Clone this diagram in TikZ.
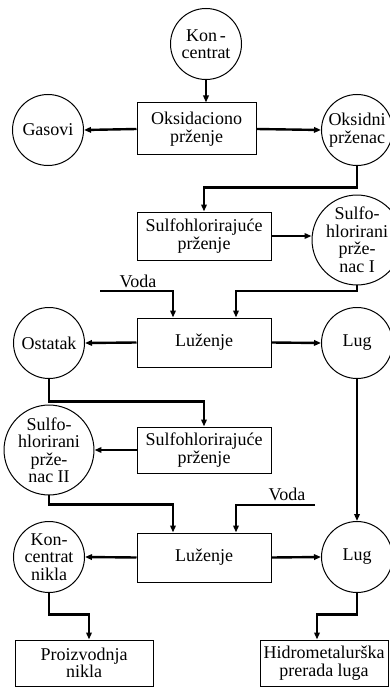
\documentclass[tikz,border=0pt]{standalone}
\usepackage{fontspec}
\setmainfont{Liberation Serif}
\usetikzlibrary{arrows.meta,calc}
\begin{document}
\begin{tikzpicture}[x=1pt,y=-1pt,
  every node/.style={font=\fontsize{18}{17.5}\selectfont, align=center, inner sep=0pt},
  stage/.style={draw, line width=1pt, minimum width=134pt, minimum height=48pt},
  prod/.style={draw, circle, line width=1pt, minimum size=71pt},
  flow/.style={line width=2.4pt, -{Triangle[length=7pt,width=5.5pt]}},
  feed/.style={line width=2.4pt}]
\useasboundingbox (0,0) rectangle (389,687);
\fill[white] (0,0) rectangle (389,687);

% process stages (boxes) and products (circles)
\node[prod] (kon) at (206,44) {Kon\,-\\centrat};
\node[stage, minimum width=119pt, minimum height=52pt] (ox) at (196.5,129) {Oksidaciono\\prženje};
\node[prod] (gas) at (48,130) {Gasovi};
\node[prod] (oks) at (357,130) {Oksidni\\prženac};
\node[stage] (sp1) at (204,236) {Sulfohlorirajuće\\prženje};
\node[prod] (sh1) at (357,240) {Sulfo-\\hlorirani\\prže-\\nac I};
\node[stage, minimum height=49pt] (lu1) at (204,342.5) {Luženje};
\node[prod] (ost) at (49,343) {Ostatak};
\node[prod] (lug1) at (357,343) {Lug};
\node[stage, minimum height=46pt] (sp2) at (204,450) {Sulfohlorirajuće\\prženje};
\node[prod] (sh2) at (49,450) {Sulfo-\\hlorirani\\prže-\\nac II};
\node[stage, minimum height=49pt] (lu2) at (204,557.5) {Luženje};
\node[prod] (kn) at (49,557) {Kon-\\centrat\\nikla};
\node[prod] (lug2) at (357,557) {Lug};
\node[stage, minimum width=138pt, minimum height=46pt] (pn) at (84,663) {Proizvodnja\\nikla};
\node[stage, minimum width=128pt, minimum height=46pt] (hp) at (324,663) {Hidrometalurška\\prerada luga};

% water feeds
\node (v1) at (138,281) {Voda};
\node (v2) at (287,494) {Voda};
\coordinate (w1) at (100,291);
\coordinate (w2) at (315,505);

% inlets on the leaching boxes
\coordinate (in1a) at ($(lu1.north)+(-31,0)$);
\coordinate (in1b) at ($(lu1.north)+(32,0)$);
\coordinate (in2a) at ($(lu2.north)+(-31,0)$);
\coordinate (in2b) at ($(lu2.north)+(32,0)$);

% flows
\draw[flow] (kon.south) -- (kon.south |- ox.north);
\draw[flow] (ox.west) -- (gas.east);
\draw[flow] (ox.east) -- (oks.west);
\draw[flow] (oks.south) |- ($(sp1.north)+(0,-24)$) -- (sp1.north);
\draw[flow] (sp1.east) -- (sp1.east -| sh1.west);
\draw[flow] (w1) -| (in1a);
\draw[flow] (sh1.south) |- (w1 -| in1b) -- (in1b);
\draw[flow] (lu1.west) -- (ost.east);
\draw[flow] (lu1.east) -- (lug1.west);
\draw[flow] (ost.south) |- ($(sp2.north)+(0,-25)$) -- (sp2.north);
\draw[flow] (sp2.west) -- (sh2.east);
\draw[flow] (sh2.south) |- ($(in2a)+(0,-28)$) -- (in2a);
\draw[flow] (w2) -| (in2b);
\draw[flow] (lu2.west) -- (kn.east);
\draw[flow] (lu2.east) -- (lug2.west);
\draw[flow] (lug1.south) -- (lug2.north);
\draw[flow] (kn.south) |- ($(pn.north)+(5,-25)$) -- ($(pn.north)+(5,0)$);
\draw[flow] (lug2.south) |- ($(hp.north)+(-7,-25)$) -- ($(hp.north)+(-7,0)$);
\end{tikzpicture}
\end{document}
